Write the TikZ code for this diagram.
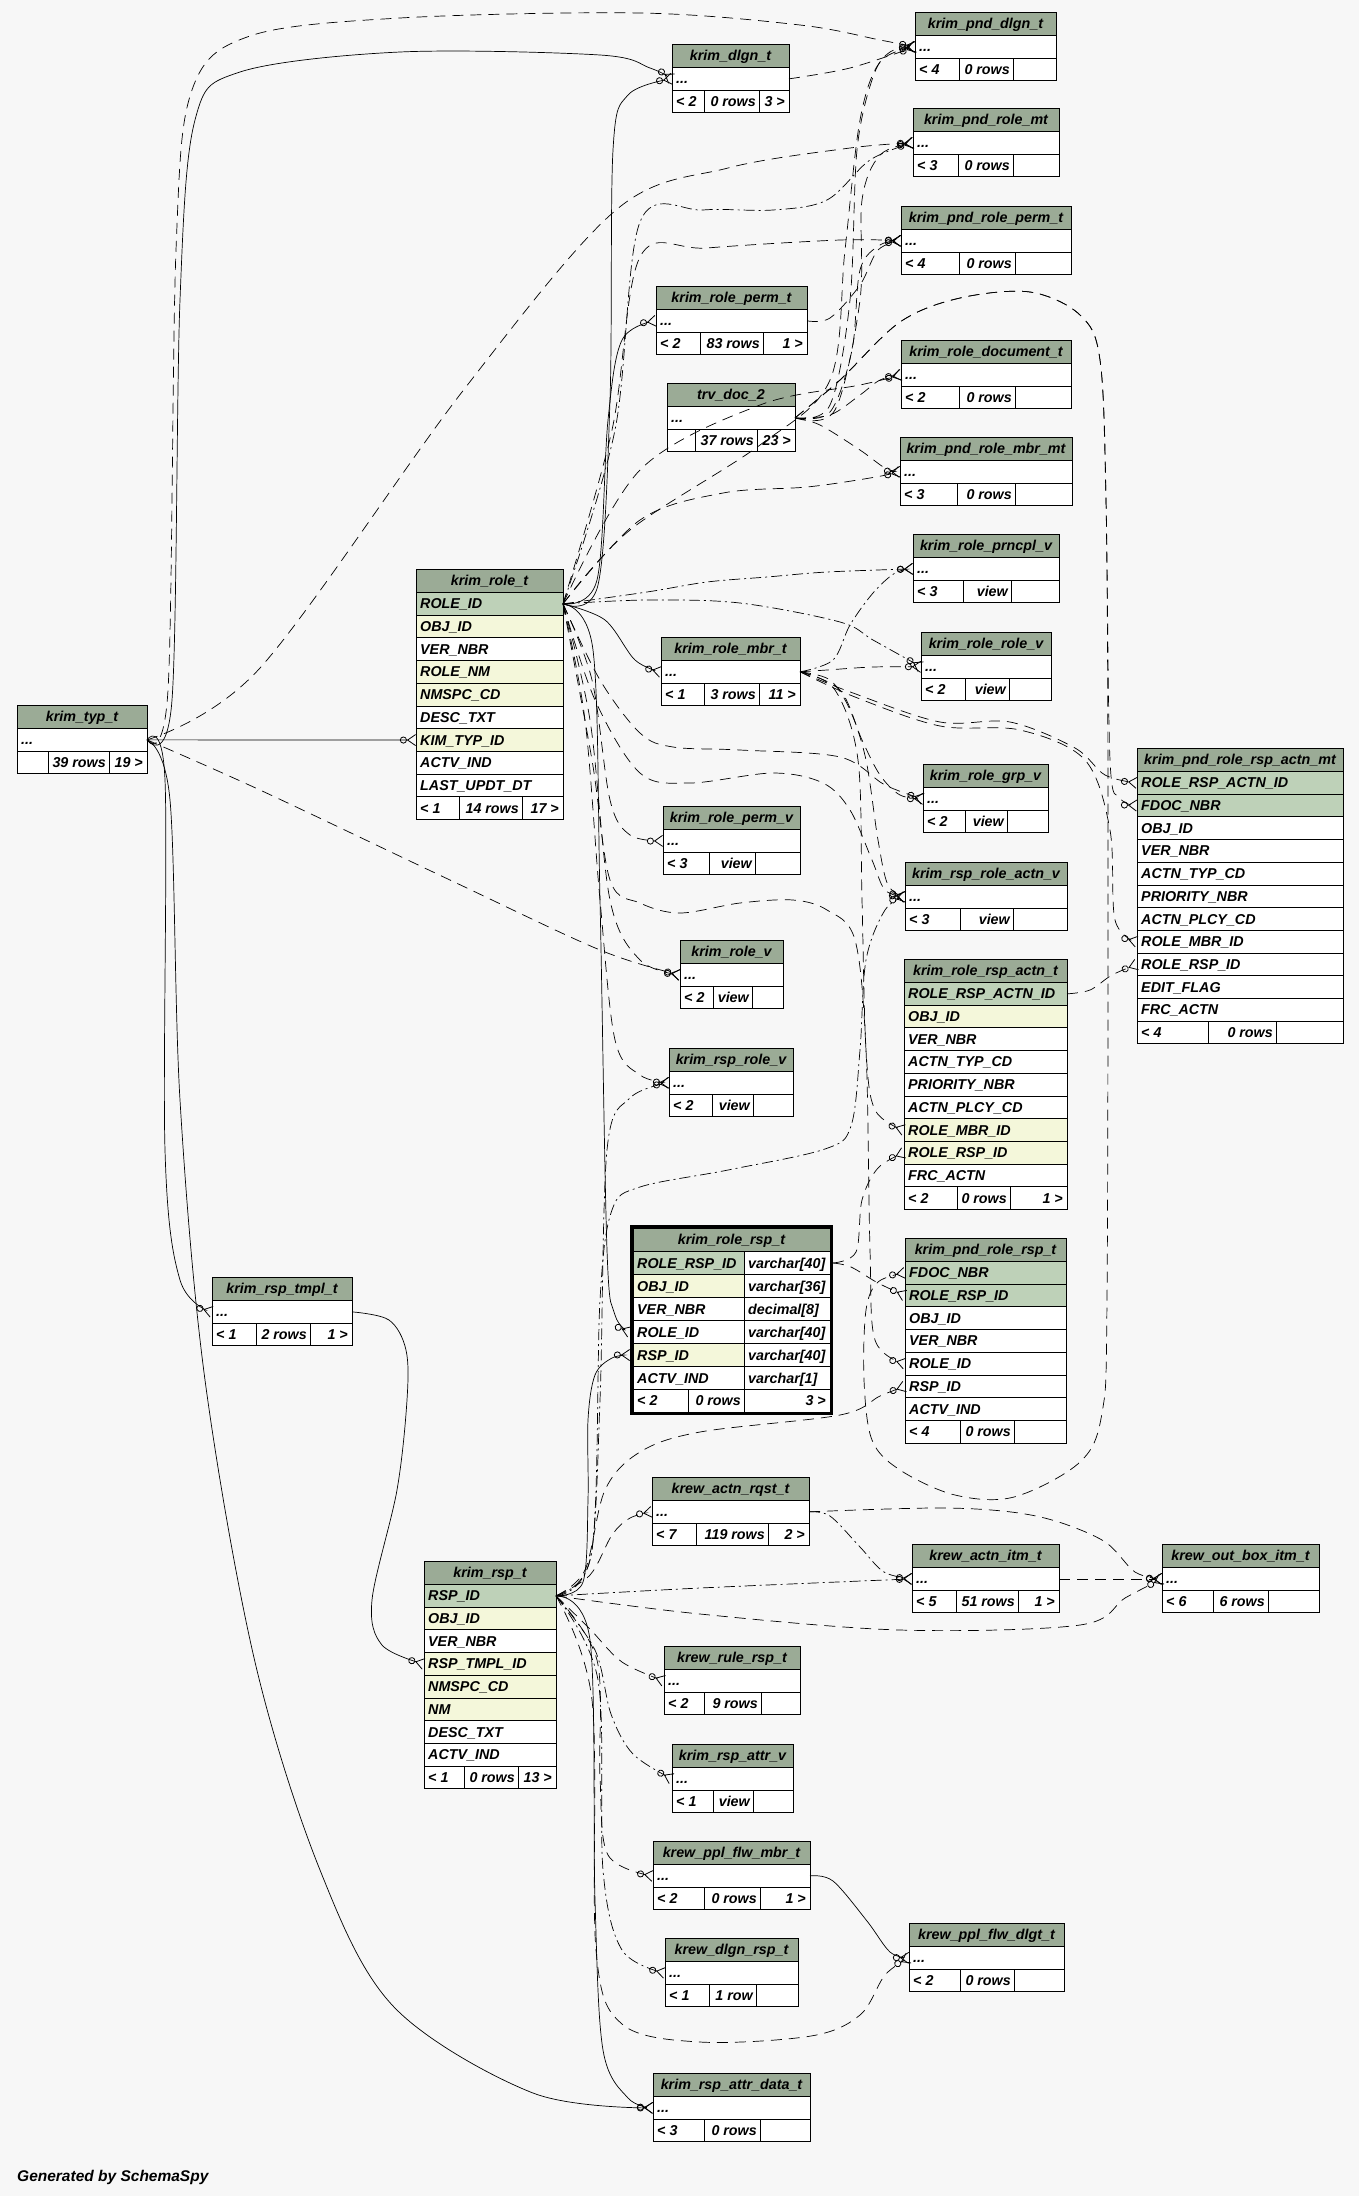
\documentclass[tikz,border=0pt]{standalone}
\usepackage{fontspec}
\setmainfont{Liberation Sans}
\usetikzlibrary{arrows.meta}
\definecolor{hdr}{HTML}{9BAB96}
\definecolor{pk}{HTML}{BED1B8}
\definecolor{fk}{HTML}{F4F7DA}
\definecolor{bg}{HTML}{F7F7F7}
\tikzset{
  tf/.style={font=\fontsize{14.3}{16}\selectfont\bfseries\itshape, inner sep=0pt, text height=10.3pt, text depth=0.3pt},
  cell/.style={draw=black, line width=0.9pt},
  fkl/.style={line width=0.7pt, -{Circle[open,length=7pt,width=7pt,line width=0.8pt]Straight Barb[reversed,length=8pt,width=11pt,line width=0.8pt]}},
  rs/.style={fkl},
  ds/.style={fkl, dash pattern=on 11pt off 7pt},
  dd/.style={fkl, dash pattern=on 11pt off 4pt on 2pt off 4pt},
  sm/.style={smooth, tension=0.55}
}
\newcommand\simtab[9]{\def\stN{#1}\def\stX{#2}\def\stY{#3}\def\stR{#4}\def\stT{#5}\def\stDa{#6}\def\stDb{#7}\def\stL{#8}\def\stM{#9}\simtabfin}
\newcommand\simtabfin[1]{%
  \filldraw[fill=hdr,cell] (\stX,\stY) rectangle (\stR,\stY+23.5);
  \node[tf] (\stN) at ({(\stX+\stR)/2},\stY+11.75) {\stT};
  \filldraw[fill=white,cell] (\stX,\stY+23.5) rectangle (\stR,\stY+46.2);
  \node[tf,anchor=west] (\stN-r) at (\stX+4,\stY+34.85) {...};
  \coordinate (\stN-w) at (\stX,\stY+34.85);
  \coordinate (\stN-e) at (\stR,\stY+34.85);
  \filldraw[fill=white,cell] (\stX,\stY+46.2) rectangle (\stR,\stY+68.9);
  \draw[cell] (\stDa,\stY+46.2) -- (\stDa,\stY+68.9) (\stDb,\stY+46.2) -- (\stDb,\stY+68.9);
  \node[tf,anchor=west] (\stN-fl) at (\stX+4,\stY+57.55) {\stL};
  \node[tf,anchor=east] (\stN-fm) at (\stDb-3,\stY+57.55) {\stM};
  \node[tf,anchor=east] (\stN-fr) at (\stR-4,\stY+57.55) {#1};
}
\newcommand\bhead[5]{%
  \filldraw[fill=hdr,cell] (#2,#4) rectangle (#3,#4+23.5);
  \node[tf] (#1) at ({(#2+#3)/2},#4+11.75) {#5};
}
\newcommand\brow[6]{%
  \filldraw[fill=#5,cell] (#2,#4) rectangle (#3,#4+22.7);
  \node[tf,anchor=west] (#1) at (#2+4,#4+11.35) {#6};
  \coordinate (#1-w) at (#2,#4+11.35);
  \coordinate (#1-e) at (#3,#4+11.35);
}
\newcommand\bfoot[9]{%
  \filldraw[fill=white,cell] (#2,#4) rectangle (#3,#4+22.7);
  \draw[cell] (#5,#4) -- (#5,#4+22.7) (#6,#4) -- (#6,#4+22.7);
  \node[tf,anchor=west] (#1-fl) at (#2+4,#4+11.35) {#7};
  \node[tf,anchor=east] (#1-fm) at (#6-3,#4+11.35) {#8};
  \node[tf,anchor=east] (#1-fr) at (#3-4,#4+11.35) {#9};
}
\newcommand\rrrow[5]{%
  \filldraw[fill=#3,cell] (633,#2) rectangle (744,#2+23);
  \filldraw[fill=white,cell] (744,#2) rectangle (830,#2+23);
  \node[tf,anchor=west] (#1) at (637,#2+11.5) {#4};
  \node[tf,anchor=west] (#1-t) at (748,#2+11.5) {#5};
  \coordinate (#1-w) at (630,#2+11.5);
  \coordinate (#1-e) at (833,#2+11.5);
}
\begin{document}
\begin{tikzpicture}[x=1pt,y=-1pt]
\useasboundingbox (0,0) rectangle (1359,2196);
\fill[bg] (0,0) rectangle (1359,2196);

% ---------- simple tables ----------
\simtab{pnddlgn}{915}{12}{1056}{krim\_pnd\_dlgn\_t}{959}{1013}{< 4}{0 rows}{}
\simtab{dlgn}{672}{44}{789}{krim\_dlgn\_t}{704}{759}{< 2}{0 rows}{3 >}
\simtab{pndrolemt}{913}{108}{1059}{krim\_pnd\_role\_mt}{958}{1013}{< 3}{0 rows}{}
\simtab{pndroleperm}{901}{206}{1071}{krim\_pnd\_role\_perm\_t}{959}{1015}{< 4}{0 rows}{}
\simtab{roleperm}{656}{286}{807}{krim\_role\_perm\_t}{700}{763}{< 2}{83 rows}{1 >}
\simtab{roledoc}{901}{340}{1071}{krim\_role\_document\_t}{959}{1015}{< 2}{0 rows}{}
\simtab{trv}{667}{383}{795}{trv\_doc\_2}{695}{757}{}{37 rows}{23 >}
\simtab{pndrolembr}{900}{437}{1072}{krim\_pnd\_role\_mbr\_mt}{957}{1015}{< 3}{0 rows}{}
\simtab{prncpl}{913}{534}{1059}{krim\_role\_prncpl\_v}{963}{1011}{< 3}{view}{}
\simtab{rolerole}{921}{632}{1051}{krim\_role\_role\_v}{965}{1009}{< 2}{view}{}
\simtab{rolembr}{661}{637}{800}{krim\_role\_mbr\_t}{704}{759}{< 1}{3 rows}{11 >}
\simtab{typ}{17}{705}{147}{krim\_typ\_t}{48}{109}{}{39 rows}{19 >}
\simtab{rolegrp}{923}{764}{1048}{krim\_role\_grp\_v}{965}{1007}{< 2}{view}{}
\simtab{rolepermv}{663}{806}{800}{krim\_role\_perm\_v}{709}{755}{< 3}{view}{}
\simtab{rsproleactn}{905}{862}{1067}{krim\_rsp\_role\_actn\_v}{960}{1013}{< 3}{view}{}
\simtab{rolev}{680}{940}{783}{krim\_role\_v}{713}{752}{< 2}{view}{}
\simtab{rsprolev}{669}{1048}{793}{krim\_rsp\_role\_v}{712}{753}{< 2}{view}{}
\simtab{rsptmpl}{212}{1277}{352}{krim\_rsp\_tmpl\_t}{256}{310}{< 1}{2 rows}{1 >}
\simtab{actnrqst}{652}{1477}{809}{krew\_actn\_rqst\_t}{696}{768}{< 7}{119 rows}{2 >}
\simtab{actnitm}{912}{1544}{1059}{krew\_actn\_itm\_t}{956}{1018}{< 5}{51 rows}{1 >}
\simtab{outbox}{1162}{1544}{1319}{krew\_out\_box\_itm\_t}{1213}{1268}{< 6}{6 rows}{}
\simtab{rulersp}{664}{1646}{800}{krew\_rule\_rsp\_t}{704}{761}{< 2}{9 rows}{}
\simtab{rspattrv}{672}{1744}{793}{krim\_rsp\_attr\_v}{713}{753}{< 1}{view}{}
\simtab{pplmbr}{653}{1841}{810}{krew\_ppl\_flw\_mbr\_t}{704}{760}{< 2}{0 rows}{1 >}
\simtab{ppldlgt}{909}{1923}{1064}{krew\_ppl\_flw\_dlgt\_t}{960}{1014}{< 2}{0 rows}{}
\simtab{dlgnrsp}{665}{1938}{798}{krew\_dlgn\_rsp\_t}{709}{756}{< 1}{1 row}{}
\simtab{rspattrdata}{653}{2073}{810}{krim\_rsp\_attr\_data\_t}{704}{760}{< 3}{0 rows}{}

% ---------- krim_role_t ----------
\bhead{rl}{416}{563}{569}{krim\_role\_t}
\brow{rl-pk}{416}{563}{592.5}{pk}{ROLE\_ID}
\brow{rl-obj}{416}{563}{615.2}{fk}{OBJ\_ID}
\brow{rl-ver}{416}{563}{637.9}{white}{VER\_NBR}
\brow{rl-nm}{416}{563}{660.6}{fk}{ROLE\_NM}
\brow{rl-ns}{416}{563}{683.3}{fk}{NMSPC\_CD}
\brow{rl-desc}{416}{563}{706.0}{white}{DESC\_TXT}
\brow{rl-typ}{416}{563}{728.7}{fk}{KIM\_TYP\_ID}
\brow{rl-actv}{416}{563}{751.4}{white}{ACTV\_IND}
\brow{rl-last}{416}{563}{774.1}{white}{LAST\_UPDT\_DT}
\bfoot{rl}{416}{563}{796.8}{459}{522}{< 1}{14 rows}{17 >}

% ---------- krim_rsp_t ----------
\bhead{rs}{424}{556}{1561}{krim\_rsp\_t}
\brow{rs-pk}{424}{556}{1584.5}{pk}{RSP\_ID}
\brow{rs-obj}{424}{556}{1607.2}{fk}{OBJ\_ID}
\brow{rs-ver}{424}{556}{1629.9}{white}{VER\_NBR}
\brow{rs-tmpl}{424}{556}{1652.6}{fk}{RSP\_TMPL\_ID}
\brow{rs-ns}{424}{556}{1675.3}{fk}{NMSPC\_CD}
\brow{rs-nm}{424}{556}{1698.0}{fk}{NM}
\brow{rs-desc}{424}{556}{1720.7}{white}{DESC\_TXT}
\brow{rs-actv}{424}{556}{1743.4}{white}{ACTV\_IND}
\bfoot{rs}{424}{556}{1766.1}{464}{518}{< 1}{0 rows}{13 >}

% ---------- krim_role_rsp_actn_t ----------
\bhead{rra}{904}{1067}{959}{krim\_role\_rsp\_actn\_t}
\brow{rra-pk}{904}{1067}{982.5}{pk}{ROLE\_RSP\_ACTN\_ID}
\brow{rra-obj}{904}{1067}{1005.2}{fk}{OBJ\_ID}
\brow{rra-ver}{904}{1067}{1027.9}{white}{VER\_NBR}
\brow{rra-typ}{904}{1067}{1050.6}{white}{ACTN\_TYP\_CD}
\brow{rra-pri}{904}{1067}{1073.3}{white}{PRIORITY\_NBR}
\brow{rra-plcy}{904}{1067}{1096.0}{white}{ACTN\_PLCY\_CD}
\brow{rra-mbr}{904}{1067}{1118.7}{fk}{ROLE\_MBR\_ID}
\brow{rra-rsp}{904}{1067}{1141.4}{fk}{ROLE\_RSP\_ID}
\brow{rra-frc}{904}{1067}{1164.1}{white}{FRC\_ACTN}
\bfoot{rra}{904}{1067}{1186.8}{957}{1010}{< 2}{0 rows}{1 >}

% ---------- krim_pnd_role_rsp_actn_mt ----------
\bhead{prra}{1137}{1343}{748}{krim\_pnd\_role\_rsp\_actn\_mt}
\brow{prra-pk}{1137}{1343}{771.5}{pk}{ROLE\_RSP\_ACTN\_ID}
\brow{prra-doc}{1137}{1343}{794.2}{pk}{FDOC\_NBR}
\brow{prra-obj}{1137}{1343}{816.9}{white}{OBJ\_ID}
\brow{prra-ver}{1137}{1343}{839.6}{white}{VER\_NBR}
\brow{prra-typ}{1137}{1343}{862.3}{white}{ACTN\_TYP\_CD}
\brow{prra-pri}{1137}{1343}{885.0}{white}{PRIORITY\_NBR}
\brow{prra-plcy}{1137}{1343}{907.7}{white}{ACTN\_PLCY\_CD}
\brow{prra-mbr}{1137}{1343}{930.4}{white}{ROLE\_MBR\_ID}
\brow{prra-rsp}{1137}{1343}{953.1}{white}{ROLE\_RSP\_ID}
\brow{prra-edit}{1137}{1343}{975.8}{white}{EDIT\_FLAG}
\brow{prra-frc}{1137}{1343}{998.5}{white}{FRC\_ACTN}
\bfoot{prra}{1137}{1343}{1021.2}{1208}{1276}{< 4}{0 rows}{}

% ---------- krim_pnd_role_rsp_t ----------
\bhead{prr}{905}{1066}{1238}{krim\_pnd\_role\_rsp\_t}
\brow{prr-doc}{905}{1066}{1261.5}{pk}{FDOC\_NBR}
\brow{prr-rr}{905}{1066}{1284.2}{pk}{ROLE\_RSP\_ID}
\brow{prr-obj}{905}{1066}{1306.9}{white}{OBJ\_ID}
\brow{prr-ver}{905}{1066}{1329.6}{white}{VER\_NBR}
\brow{prr-role}{905}{1066}{1352.3}{white}{ROLE\_ID}
\brow{prr-rsp}{905}{1066}{1375.0}{white}{RSP\_ID}
\brow{prr-actv}{905}{1066}{1397.7}{white}{ACTV\_IND}
\bfoot{prr}{905}{1066}{1420.4}{960}{1014}{< 4}{0 rows}{}

% ---------- krim_role_rsp_t (focus table) ----------
\filldraw[fill=hdr,cell] (633,1228) rectangle (830,1251.5);
\node[tf] (rr) at (731.5,1239.75) {krim\_role\_rsp\_t};
\rrrow{rr-pk}{1251.5}{pk}{ROLE\_RSP\_ID}{varchar[40]}
\rrrow{rr-obj}{1274.5}{fk}{OBJ\_ID}{varchar[36]}
\rrrow{rr-ver}{1297.5}{white}{VER\_NBR}{decimal[8]}
\rrrow{rr-role}{1320.5}{white}{ROLE\_ID}{varchar[40]}
\rrrow{rr-rsp}{1343.5}{fk}{RSP\_ID}{varchar[40]}
\rrrow{rr-actv}{1366.5}{white}{ACTV\_IND}{varchar[1]}
\filldraw[fill=white,cell] (633,1389.5) rectangle (830,1412);
\draw[cell] (688,1389.5) -- (688,1412) (744,1389.5) -- (744,1412);
\node[tf,anchor=west] (rr-fl) at (637,1400.75) {< 2};
\node[tf,anchor=east] (rr-fm) at (741,1400.75) {0 rows};
\node[tf,anchor=east] (rr-fr) at (826,1400.75) {3 >};
\draw[line width=3pt] (631.5,1226.5) rectangle (831.5,1413.5);

% ---------- connectors ----------
% krim_typ_t
\draw[rs] plot[sm] coordinates {(typ-e) (172,700) (180,300) (195,120) (240,72) (400,52) (600,55) (650,68) (dlgn-w)};
\draw[ds] plot[sm] coordinates {(typ-e) (168,690) (176,250) (192,90) (250,36) (400,18) (640,13) (800,25) (880,40) (pnddlgn-w)};
\draw[rs] (typ-e) -- (rl-typ-w);
\draw[ds] plot[sm] coordinates {(typ-e) (260,668) (462,392) (616,210) (728,168) (850,148) (pndrolemt-w)};
\draw[ds] plot[sm] coordinates {(typ-e) (260,790) (450,880) (600,950) (rolev-w)};
\draw[rs] plot[sm] coordinates {(typ-e) (165,780) (165,1150) (180,1280) (rsptmpl-w)};
\draw[rs] plot[sm] coordinates {(typ-e) (170,800) (180,1100) (205,1380) (255,1662) (320,1870) (394,2007) (533,2093) (rspattrdata-w)};
\draw[rs] plot[sm] coordinates {(rsptmpl-e) (389,1320) (406,1350) (407,1400) (397,1490) (372,1600) (382,1645) (rs-tmpl-w)};
\draw[ds] plot[sm] coordinates {(dlgn-e) (850,68) (pnddlgn-w)};

% krim_role_t ROLE_ID
\draw[rs] plot[sm] coordinates {(rl-pk-e) (598,585) (610,400) (613,150) (628,95) (dlgn-w)};
\draw[rs] plot[sm] coordinates {(rl-pk-e) (597,580) (608,420) (622,340) (roleperm-w)};
\draw[dd] plot[sm] coordinates {(rl-pk-e) (615,430) (640,222) (703,210) (773,210) (827,200) (870,160) (pndrolemt-w)};
\draw[ds] plot[sm] coordinates {(rl-pk-e) (612,430) (640,257) (707,248) (840,240) (pndroleperm-w)};
\draw[ds] plot[sm] coordinates {(rl-pk-e) (640,470) (760,405) (860,385) (roledoc-w)};
\draw[ds] plot[sm] coordinates {(rl-pk-e) (640,520) (723,493) (807,487) (870,478) (pndrolembr-w)};
\draw[ds] plot[sm] coordinates {(rl-pk-e) (630,530) (760,445) (830,380) (845,250) (860,120) (880,62) (pnddlgn-w)};
\draw[dd] plot[sm] coordinates {(rl-pk-e) (647,592) (707,582) (767,577) (827,572) (prncpl-w)};
\draw[dd] plot[sm] coordinates {(rl-pk-e) (647,600) (740,603) (840,622) (873,640) (rolerole-w)};
\draw[rs] plot[sm] coordinates {(rl-pk-e) (605,620) (635,660) (rolembr-w)};
\draw[ds] plot[sm] coordinates {(rl-pk-e) (600,680) (640,733) (673,747) (740,750) (840,757) (885,785) (rolegrp-w)};
\draw[ds] plot[sm] coordinates {(rl-pk-e) (592,680) (610,800) (630,835) (rolepermv-w)};
\draw[ds] plot[sm] coordinates {(rl-pk-e) (595,700) (640,773) (690,783) (773,773) (823,783) (850,810) (872,860) (885,890) (rsproleactn-w)};
\draw[ds] plot[sm] coordinates {(rl-pk-e) (590,720) (610,900) (640,960) (rolev-w)};
\draw[ds] plot[sm] coordinates {(rl-pk-e) (585,720) (600,900) (615,1040) (640,1075) (rsprolev-w)};
\draw[rs] plot[sm] coordinates {(rl-pk-e) (593,650) (600,900) (607,1250) (615,1315) (rr-role-w)};
\draw[ds] plot[sm] coordinates {(rl-pk-e) (592,760) (610,880) (640,903) (680,913) (740,903) (793,900) (827,910) (855,940) (866,1050) (870,1250) (875,1340) (prr-role-w)};

% trv_doc_2
\draw[ds] plot[sm] coordinates {(trv-e) (830,405) (850,300) (857,150) (873,77) (890,52) (pnddlgn-w)};
\draw[ds] plot[sm] coordinates {(trv-e) (835,410) (860,300) (862,200) (880,155) (pndrolemt-w)};
\draw[ds] plot[sm] coordinates {(trv-e) (830,412) (852,350) (860,270) (880,245) (pndroleperm-w)};
\draw[ds] plot[sm] coordinates {(trv-e) (830,415) (860,395) (880,380) (roledoc-w)};
\draw[ds] plot[sm] coordinates {(trv-e) (820,425) (860,450) (885,468) (pndrolembr-w)};
\draw[ds] plot[sm] coordinates {(trv-e) (840,380) (900,322) (960,298) (1030,292) (1080,315) (1100,360) (1106,500) (1108,800) (1107,1300) (1102,1413) (1080,1462) (1014,1497) (955,1495) (900,1470) (872,1440) (864,1380) (866,1310) (878,1282) (prr-doc-w)};
\draw[ds] plot[sm] coordinates {(trv-e) (840,380) (900,322) (960,298) (1030,292) (1080,315) (1100,360) (1106,500) (1110,760) (1120,798) (prra-doc-w)};
\draw[ds] plot[sm] coordinates {(roleperm-e) (830,318) (860,285) (878,250) (pndroleperm-w)};

% krim_role_mbr_t
\draw[ds] plot[sm] coordinates {(rolembr-e) (827,670) (873,667) (rolerole-w)};
\draw[dd] plot[sm] coordinates {(rolembr-e) (833,660) (850,625) (873,593) (895,573) (prncpl-w)};
\draw[ds] plot[sm] coordinates {(rolembr-e) (830,680) (850,710) (866,760) (878,840) (888,885) (rsproleactn-w)};
\draw[ds] plot[sm] coordinates {(rolembr-e) (840,690) (862,740) (880,775) (900,795) (rolegrp-w)};
\draw[ds] plot[sm] coordinates {(rolembr-e) (835,690) (858,760) (862,900) (866,1050) (875,1110) (rra-mbr-w)};
\draw[ds] plot[sm] coordinates {(rolembr-e) (853,693) (940,722) (1010,722) (1075,748) (1105,775) (prra-pk-w)};
\draw[ds] plot[sm] coordinates {(rolembr-e) (855,697) (940,726) (1020,730) (1085,760) (1110,830) (1115,920) (prra-mbr-w)};

% krim_role_rsp_actn_t / krim_role_rsp_t
\draw[ds] plot[sm] coordinates {(rra-pk-e) (1090,990) (1112,975) (prra-rsp-w)};
\draw[ds] plot[sm] coordinates {(rr-pk-e) (856,1252) (862,1200) (878,1168) (rra-rsp-w)};
\draw[ds] plot[sm] coordinates {(rr-pk-e) (851,1267) (878,1283) (prr-rr-w)};

% krim_rsp_t RSP_ID
\draw[rs] plot[sm] coordinates {(rs-pk-e) (583,1582) (588,1500) (588,1420) (595,1375) (612,1358) (rr-rsp-w)};
\draw[ds] plot[sm] coordinates {(rs-pk-e) (585,1570) (605,1490) (640,1452) (700,1432) (840,1415) (880,1396) (prr-rsp-w)};
\draw[dd] plot[sm] coordinates {(rs-pk-e) (590,1560) (600,1400) (607,1150) (630,1098) (rsprolev-w)};
\draw[dd] plot[sm] coordinates {(rs-pk-e) (592,1550) (600,1300) (612,1210) (640,1187) (728,1170) (825,1149) (851,1126) (860,1050) (866,960) (885,910) (rsproleactn-w)};
\draw[ds] plot[sm] coordinates {(rs-pk-e) (590,1575) (612,1535) (630,1518) (actnrqst-w)};
\draw[dd] plot[sm] coordinates {(rs-pk-e) (700,1588) (actnitm-w)};
\draw[ds] plot[sm] coordinates {(rs-pk-e) (700,1614) (900,1630) (1080,1625) (1125,1598) (outbox-w)};
\draw[ds] plot[sm] coordinates {(rs-pk-e) (589,1628) (622,1662) (rulersp-w)};
\draw[dd] plot[sm] coordinates {(rs-pk-e) (595,1650) (611,1714) (633,1754) (rspattrv-w)};
\draw[ds] plot[sm] coordinates {(rs-pk-e) (597,1660) (600,1777) (608,1855) (pplmbr-w)};
\draw[dd] plot[sm] coordinates {(rs-pk-e) (598,1680) (603,1870) (622,1950) (dlgnrsp-w)};
\draw[ds] plot[sm] coordinates {(rs-pk-e) (592,1700) (596,1950) (622,2024) (700,2042) (811,2036) (860,2015) (885,1975) (ppldlgt-w)};
\draw[rs] plot[sm] coordinates {(rs-pk-e) (590,1640) (595,1900) (603,2050) (628,2098) (rspattrdata-w)};

% krew tables
\draw[dd] plot[sm] coordinates {(actnrqst-e) (830,1516) (860,1547) (884,1572) (actnitm-w)};
\draw[ds] plot[sm] coordinates {(actnrqst-e) (948,1508) (1036,1516) (1102,1540) (1135,1572) (outbox-w)};
\draw[ds] (actnitm-e) -- (outbox-w);
\draw[rs] plot[sm] coordinates {(pplmbr-e) (833,1881) (867,1921) (890,1952) (ppldlgt-w)};

\node[font=\fontsize{15.5}{18}\selectfont\bfseries\itshape, anchor=west, inner sep=0pt] (gen) at (17,2177) {Generated by SchemaSpy};
\end{tikzpicture}
\end{document}
